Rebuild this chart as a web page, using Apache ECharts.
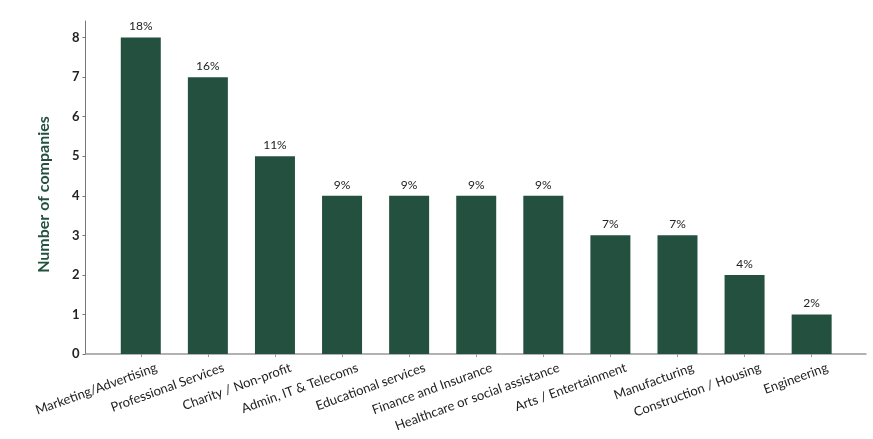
<!DOCTYPE html>
<html>
<head>
<meta charset="utf-8">
<title>Number of companies by sector</title>
<script src="https://cdn.jsdelivr.net/npm/echarts@6/dist/echarts.min.js"></script>
<style>
    html, body { margin: 0; padding: 0; background: #fff; }
    #chart { width: 873px; height: 439px; }
</style>
</head>
<body>
<div id="chart"></div>
<script>
// sectors, in the order of the bars
var sectors = ['Marketing/Advertising', 'Professional Services', 'Charity / Non-profit',
    'Admin, IT & Telecoms', 'Educational services', 'Finance and Insurance',
    'Healthcare or social assistance', 'Arts / Entertainment', 'Manufacturing',
    'Construction / Housing', 'Engineering'];
// number of companies per sector
var counts = [8, 7, 5, 4, 4, 4, 4, 3, 3, 2, 1];
// share label shown on top of each bar
var shares = ['18%', '16%', '11%', '9%', '9%', '9%', '9%', '7%', '7%', '4%', '2%'];
// y axis ticks
var yTicks = [0, 1, 2, 3, 4, 5, 6, 7, 8];

var green = '#24513f';
var font = 'Lato';

// bars sit on a value x axis at 0,1,2... so the axis can run past the first and last bar
var barData = [];
var xTicks = [];
var xLabelPos = [];
for (var i = 0; i < counts.length; i++) {
    barData.push([i, counts[i]]);
    xTicks.push(i);
    xLabelPos.push(i + 0.2);   // labels end a bit to the right of their tick
}

var myChart = echarts.init(document.getElementById('chart'));
var options = {
    animation: false,
    grid: {
        left: 85.5,
        right: 7,
        top: 21,
        bottom: 85
    },
    xAxis: {
        type: 'value',
        min: -0.824,
        max: 10.81,
        splitLine: { show: false },
        axisLine: { show: true, onZero: false, lineStyle: { color: '#999', width: 1.5 } },
        axisTick: {
            show: true,
            length: 3,
            customValues: xTicks,
            lineStyle: { color: '#999' }
        },
        axisLabel: {
            customValues: xLabelPos,
            rotate: 20,
            align: 'right',
            verticalAlign: 'top',
            margin: 7,
            color: '#222',
            fontFamily: font,
            fontSize: 13,
            formatter: function (v) {
                return sectors[Math.round(v - 0.2)];
            }
        }
    },
    yAxis: {
        type: 'value',
        min: 0,
        max: 8.42,
        name: 'Number of companies',
        nameLocation: 'middle',
        nameGap: 34,
        nameTextStyle: {
            color: green,
            fontFamily: font,
            fontSize: 16,
            fontWeight: 'bold',
            padding: [0, 0, 0, -14]
        },
        splitLine: { show: false },
        axisLine: { show: true, onZero: false, lineStyle: { color: '#777', width: 1 } },
        axisTick: {
            show: true,
            length: 3,
            customValues: yTicks,
            lineStyle: { color: '#777' }
        },
        axisLabel: {
            customValues: yTicks,
            margin: 6,
            color: '#222',
            fontFamily: font,
            fontSize: 13,
            fontWeight: 'bold'
        }
    },
    series: [{
        type: 'bar',
        data: barData,
        barWidth: 40,
        itemStyle: { color: green },
        label: {
            show: true,
            position: 'top',
            distance: 5,
            color: '#222',
            fontFamily: font,
            fontSize: 12,
            formatter: function (p) {
                return shares[p.dataIndex];
            }
        }
    }]
};
myChart.setOption(options, true);
</script>
</body>
</html>
